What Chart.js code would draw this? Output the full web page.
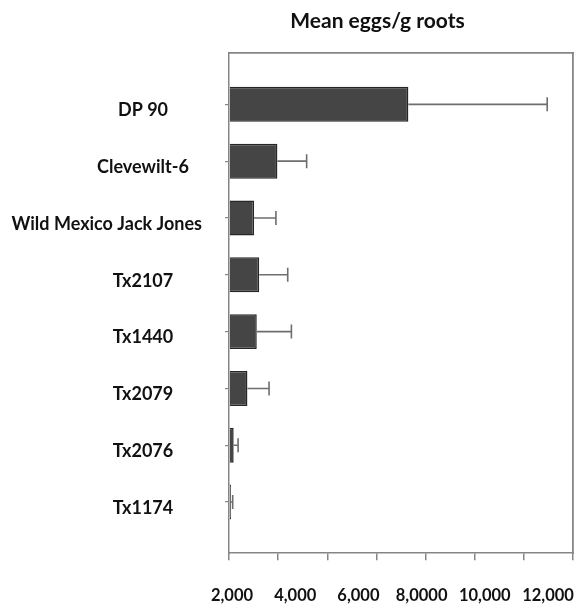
<!DOCTYPE html>
<html><head><meta charset="utf-8">
<script src="https://cdn.jsdelivr.net/npm/chart.js@4/dist/chart.umd.min.js"></script>
<style>html,body{margin:0;padding:0;background:#fff}</style>
</head><body>
<canvas id="c" width="582" height="609"></canvas>
<script>
// ---- data ----
const categories = ['DP 90', 'Clevewilt-6', 'Wild Mexico Jack Jones', 'Tx2107', 'Tx1440', 'Tx2079', 'Tx2076', 'Tx1174'];
const meanEggs   = [7300, 1970, 1020, 1230, 1130, 750, 190, 80];
const errorPlus  = [5650, 1190, 890, 1160, 1410, 880, 180, 70];
const xTickLabels = ['2,000', '4,000', '6,000', '8,0000', '10,000', '12,000'];
const titleText = 'Mean eggs/g roots';

Chart.defaults.font.family = 'Lato';
const axisGray = '#858585';

const errorBarPlugin = {
  id: 'errorBars',
  afterDatasetsDraw(chart) {
    const ctx = chart.ctx, xs = chart.scales.x, ys = chart.scales.y;
    ctx.save();
    ctx.strokeStyle = '#6e6e6e';
    ctx.lineWidth = 1.6;
    meanEggs.forEach((v, i) => {
      const y = ys.getPixelForValue(i);
      const x0 = xs.getPixelForValue(v);
      const x1 = xs.getPixelForValue(v + errorPlus[i]);
      ctx.beginPath();
      ctx.moveTo(x0, y); ctx.lineTo(x1, y);
      ctx.moveTo(x1, y - 7); ctx.lineTo(x1, y + 7);
      ctx.stroke();
    });
    ctx.restore();
  }
};

const categoryLabelPlugin = {
  id: 'categoryLabels',
  afterDraw(chart) {
    const ctx = chart.ctx, ys = chart.scales.y, area = chart.chartArea;
    ctx.save();
    ctx.font = 'bold 18px Lato';
    ctx.fillStyle = '#111';
    ctx.textAlign = 'center';
    ctx.textBaseline = 'middle';
    categories.forEach((lab, i) => {
      const w = ctx.measureText(lab).width;
      const cx = Math.min(area.left - 86, area.left - 27 - w / 2);
      ctx.fillText(lab, cx, ys.getPixelForValue(i) + 6);
    });
    ctx.restore();
  }
};

new Chart(document.getElementById('c'), {
  type: 'bar',
  data: {
    datasets: [{
      data: meanEggs.map((v, i) => ({ x: v, y: i })),
      backgroundColor: '#454545',
      borderColor: '#262626',
      borderWidth: 1.5,
      barPercentage: 0.615,
      categoryPercentage: 1
    }]
  },
  options: {
    indexAxis: 'y',
    responsive: false,
    animation: false,
    layout: { padding: { left: 182, right: 9, top: 0, bottom: 3 } },
    plugins: {
      legend: { display: false },
      tooltip: { enabled: false },
      title: {
        display: true,
        text: titleText,
        color: '#111',
        font: { family: 'Lato', size: 21, weight: 'bold' },
        padding: { top: 9, bottom: 19 }
      }
    },
    scales: {
      x: {
        type: 'linear',
        position: 'bottom',
        weight: 0,
        min: 0, max: 14000,
        ticks: { display: false, stepSize: 2000 },
        grid: { drawOnChartArea: false, drawTicks: true, tickLength: 7, color: axisGray, lineWidth: 1.5 },
        border: { display: true, color: axisGray, width: 1.5 }
      },
      x2: {
        type: 'linear',
        position: 'bottom',
        weight: 1,
        min: -0.0475, max: 5.395,
        afterBuildTicks: s => { s.ticks = xTickLabels.map((_, i) => ({ value: i })); },
        ticks: {
          padding: 0,
          color: '#111',
          font: { family: 'Lato', size: 16.5, weight: 'bold' },
          maxRotation: 0, autoSkip: false,
          callback: v => xTickLabels[v]
        },
        grid: { display: false, drawTicks: true, tickLength: 26 },
        border: { display: false }
      },
      xTop: {
        type: 'linear',
        position: 'top',
        ticks: { display: false },
        grid: { display: false, drawTicks: false },
        border: { display: true, color: axisGray, width: 1.8 }
      },
      y: {
        type: 'linear',
        position: 'left',
        reverse: true,
        offset: false,
        min: -0.9, max: 7.9,
        afterBuildTicks: s => { s.ticks = categories.map((_, i) => ({ value: i })); },
        afterFit: s => { s.width = 47; },
        ticks: { display: false },
        grid: { offset: false, drawOnChartArea: false, drawTicks: true, tickLength: 4, color: axisGray, lineWidth: 1.2 },
        border: { display: true, color: axisGray, width: 1.5 }
      },
      yRight: {
        type: 'linear',
        position: 'right',
        ticks: { display: false },
        grid: { display: false, drawTicks: false },
        border: { display: true, color: axisGray, width: 1.8 }
      }
    }
  },
  plugins: [errorBarPlugin, categoryLabelPlugin]
});
</script>
</body></html>
